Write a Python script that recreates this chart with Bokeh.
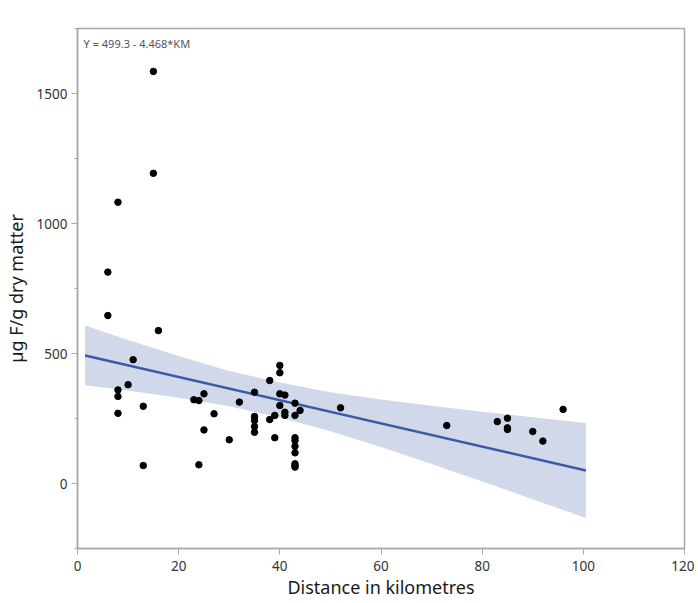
from bokeh.plotting import figure
from bokeh.models import Range1d, SingleIntervalTicker, Label
from bokeh.embed import file_html
from bokeh.resources import INLINE

# Data
km = [15, 15, 8, 6, 6, 16, 11, 10, 8, 8, 8, 13, 13, 23, 24, 25, 24, 25, 27, 30, 32,
      35, 35, 35, 35, 35, 38, 38, 39, 39, 40, 40, 40, 40, 41, 41, 41, 43, 43, 43, 43,
      43, 43, 43, 43, 43, 44, 52, 73, 83, 85, 85, 85, 90, 92, 96]
fluoride = [1585, 1193, 1082, 813, 646, 588, 476, 380, 360, 335, 270, 297, 69, 322, 319,
            345, 72, 206, 268, 168, 313, 351, 258, 242, 219, 197, 396, 246, 262, 176, 454,
            426, 345, 300, 340, 274, 262, 309, 262, 176, 165, 143, 118, 76, 69, 63, 281,
            291, 223, 238, 251, 214, 208, 200, 163, 285]

# Regression line and confidence band
intercept = 499.3
slope = -4.468
fit_x = [1.5, 100.5]
fit_y = [intercept + slope * v for v in fit_x]
band_x = [1.5, 10, 20, 30, 40, 50, 60, 70, 80, 90, 100.5]
band_upper = [608, 552, 490, 433, 388, 351, 323, 299, 276, 255, 233]
band_lower = [378, 358, 330, 297, 254, 201, 140, 75, 8, -61, -133]

equation_text = "Y = 499.3 - 4.468*KM"
x_label = "Distance in kilometres"
y_label = "µg F/g dry matter"

FONT = "Noto Sans"

p = figure(width=694, height=603, output_backend="svg", toolbar_location=None,
           x_range=Range1d(0, 120), y_range=Range1d(-250, 1750),
           min_border_left=75, min_border_right=10, min_border_top=28, min_border_bottom=55)

p.background_fill_color = "white"
p.border_fill_color = "white"
p.outline_line_color = "#a8a8a8"
p.outline_line_width = 1.5
p.grid.visible = False

p.varea(x=band_x, y1=band_lower, y2=band_upper, fill_color="#d0d8ea", fill_alpha=1.0)
p.line(fit_x, fit_y, line_color="#3b5aa6", line_width=2.5)
p.scatter(km, fluoride, size=6.5, fill_color="black", line_color="black")

p.add_layout(Label(x=1.2, y=1692, text=equation_text, text_font=FONT,
                   text_font_size="11px", text_color="#555555", text_baseline="middle"))

for ax in (p.xaxis[0], p.yaxis[0]):
    ax.axis_line_color = "#a8a8a8"
    ax.axis_line_width = 1.5
    ax.major_tick_line_color = "#a8a8a8"
    ax.minor_tick_line_color = "#a8a8a8"
    ax.major_tick_out = 6
    ax.major_tick_in = 0
    ax.minor_tick_out = 3
    ax.minor_tick_in = 0
    ax.major_label_text_font = FONT
    ax.major_label_text_font_size = "13.5px"
    ax.major_label_text_color = "#333333"
    ax.axis_label_text_font = FONT
    ax.axis_label_text_font_size = "18px"
    ax.axis_label_text_font_style = "normal"
    ax.axis_label_text_color = "#1a1a1a"

p.xaxis.ticker = SingleIntervalTicker(interval=20, num_minor_ticks=0)
p.yaxis.ticker = SingleIntervalTicker(interval=500, num_minor_ticks=2)
p.xaxis.axis_label = x_label
p.yaxis.axis_label = y_label
p.xaxis.major_label_standoff = 6
p.xaxis.axis_label_standoff = 1
p.yaxis.major_label_standoff = 4
p.yaxis.axis_label_standoff = 6
p.yaxis.major_label_orientation = "horizontal"

open("out.html", "w").write(file_html(p, INLINE))
